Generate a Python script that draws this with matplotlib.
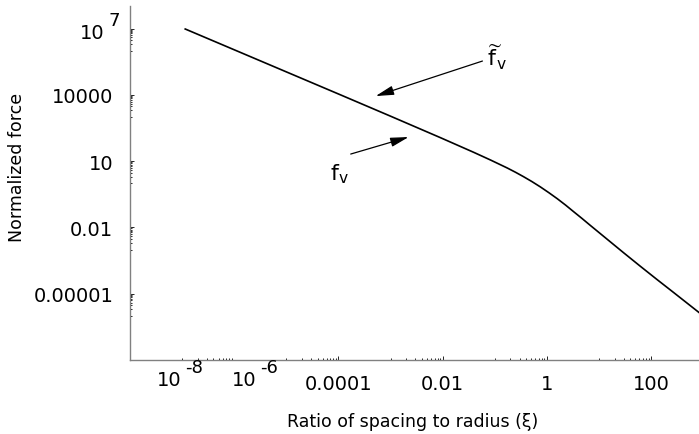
import numpy as np
import matplotlib
matplotlib.use("Agg")
import matplotlib.pyplot as plt

plt.rcParams['font.family'] = ['DejaVu Sans']
plt.rcParams['mathtext.fontset'] = 'dejavusans'

# curve, as log10 values (log-log plot)
log_xi = [-6.94, -6, -5, -4, -3, -2.04, -1.4, -1.08, -0.76, -0.6, -0.45, -0.29,
          -0.125, 0.04, 0.2, 0.36, 0.51, 0.67, 0.83, 0.99, 1.15, 1.47, 1.79,
          2.11, 2.43, 2.92]
log_force = [6.98, 6.04, 5.04, 4.04, 3.035, 2.06, 1.395, 1.05, 0.69, 0.495, 0.30,
             0.08, -0.165, -0.43, -0.70, -0.99, -1.28, -1.585, -1.90, -2.21,
             -2.52, -3.14, -3.75, -4.35, -4.94, -5.85]

x_major = [1e-4, 1e-2, 1, 100]
x_major_labels = ['0.0001', '0.01', '1', '100']
x_decades = [-8, -6, -4, -2, 0, 2]
y_major = [1e4, 10, 0.01, 1e-5]
y_major_labels = ['10000', '10', '0.01', '0.00001']
y_decades = [7, 4, 1, -2, -5]

xi = 10.0 ** np.array(log_xi)
force = 10.0 ** np.array(log_force)

W, H = 699, 435
fig = plt.figure(figsize=(W / 100, H / 100), dpi=100)
ax = fig.add_axes([130 / W, (H - 361) / H, (W - 130) / W, (361 - 7) / H])

ax.plot(xi, force, color='black', lw=1.2, solid_joinstyle='round')
ax.set_xscale('log')
ax.set_yscale('log')
ax.set_xlim(1e-8, 832)
ax.set_ylim(1e-8, 1.05e8)

for s in ['top', 'right']:
    ax.spines[s].set_visible(False)
for s in ['left', 'bottom']:
    ax.spines[s].set_color('#808080')
    ax.spines[s].set_linewidth(1.0)

# mathematica style ticks: one decade of minor ticks below each labelled one
x_minor = [m * 10.0 ** (k - 1) for k in x_decades for m in range(1, 10)]
x_minor = [v for v in x_minor if v >= 1e-8]
y_minor = [m * 10.0 ** (k - 1) for k in y_decades for m in range(1, 10)]

ax.set_xticks(x_major, x_major_labels)
ax.set_xticks(x_minor, [''] * len(x_minor), minor=True)
ax.set_yticks(y_major + [1e7], y_major_labels + [''])
ax.set_yticks(y_minor, [''] * len(y_minor), minor=True)

ax.tick_params(which='both', direction='in', color='black', width=0.6)
ax.tick_params(which='major', length=2.8, labelsize=14)
ax.tick_params(which='minor', length=1.5)
ax.tick_params(axis='x', pad=10)
ax.tick_params(axis='y', pad=12)


def px(x, y):
    return x / W, 1 - y / H


# superscript labels, drawn by hand (big exponents as in the original)
sup_labels = [(157, 386, '10', '-8'), (232, 386, '10', '-6'), (80, 39, '10', '7')]
for lx, ly, base, exp in sup_labels:
    fig.text(*px(lx, ly), base, fontsize=14, ha='left', va='baseline')
    fig.text(*px(lx + 28, ly - 13), exp, fontsize=13, ha='left', va='baseline')

fig.text(*px(413, 422), 'Ratio of spacing to radius (ξ)', fontsize=12.5,
         ha='center', va='center')
fig.text(*px(17, 167), 'Normalized force', fontsize=12.5, rotation=90,
         ha='center', va='center')

# arrows and labels
arrow_kw = dict(arrowstyle='-|>,head_length=0.55,head_width=0.14', color='black',
                lw=0.9, shrinkA=0, shrinkB=0, mutation_scale=20)
ax.annotate('', xy=(10 ** -3.285, 10 ** 3.945), xytext=(10 ** -1.236, 10 ** 5.53),
            arrowprops=arrow_kw)
ax.annotate('', xy=(10 ** -2.653, 10 ** 2.09), xytext=(10 ** -3.764, 10 ** 1.321),
            arrowprops=arrow_kw)

fig.text(*px(487, 66), r'$\widetilde{\mathrm{f}\,}_{\!\mathrm{v}}$', fontsize=16,
         ha='left', va='baseline')
fig.text(*px(330, 180), r'$\mathrm{f}_{\mathrm{v}}$', fontsize=16,
         ha='left', va='baseline')

fig.savefig('out.png', dpi=100)
